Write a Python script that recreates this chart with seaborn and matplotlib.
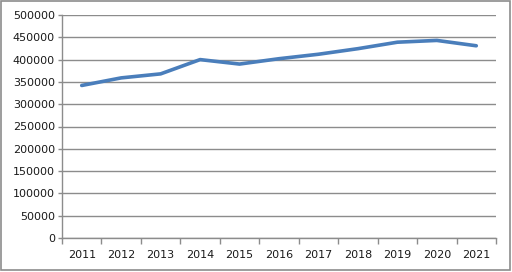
import matplotlib
matplotlib.use("Agg")
import matplotlib.pyplot as plt
from matplotlib.patches import Rectangle
from matplotlib.ticker import FixedLocator, NullFormatter, FixedFormatter
import seaborn as sns
import pandas as pd

years = [2011, 2012, 2013, 2014, 2015, 2016, 2017, 2018, 2019, 2020, 2021]
values = [342000, 359000, 368000, 400000, 390000, 402000, 412000, 424500, 439000, 443000, 431000]
y_ticks = [0, 50000, 100000, 150000, 200000, 250000, 300000, 350000, 400000, 450000, 500000]

df = pd.DataFrame({"year": years, "value": values})

sns.set_theme(style="white")
plt.rcParams["font.family"] = ["DejaVu Sans"]

fig = plt.figure(figsize=(5.12, 2.72), dpi=100)
ax = fig.add_axes([62/512, 34/272, 434/512, 223/272])

sns.lineplot(data=df, x="year", y="value", ax=ax, color="#4A7EBB", linewidth=2.6)

ax.set_xlim(years[0] - 0.5, years[-1] + 0.5)
ax.set_ylim(0, 500000)
ax.set_yticks(y_ticks)
ax.set_yticklabels([str(v) for v in y_ticks])
ax.yaxis.grid(True, color="#8C8C8C", linewidth=1.0)
ax.set_axisbelow(True)

bounds = [y - 0.5 for y in years] + [years[-1] + 0.5]
ax.xaxis.set_major_locator(FixedLocator(bounds))
ax.xaxis.set_major_formatter(NullFormatter())
ax.xaxis.set_minor_locator(FixedLocator(years))
ax.xaxis.set_minor_formatter(FixedFormatter([str(y) for y in years]))
ax.tick_params(axis="x", which="major", length=4, width=1, color="#8C8C8C", direction="out", bottom=True)
ax.tick_params(axis="x", which="minor", length=0, pad=9, labelsize=8, labelcolor="#1a1a1a")
ax.tick_params(axis="y", which="major", length=3, width=1, color="#8C8C8C", direction="out", left=True, labelsize=8, labelcolor="#1a1a1a", pad=2)

ax.set_xlabel("")
ax.set_ylabel("")
for s in ["top", "right"]:
    ax.spines[s].set_visible(False)
for s in ["left", "bottom"]:
    ax.spines[s].set_color("#8C8C8C")
    ax.spines[s].set_linewidth(1.0)

fig.patches.append(Rectangle((1/512, 2/272), 509/512, 269/272, transform=fig.transFigure,
                             fill=False, edgecolor="#8C8C8C", linewidth=1.2))

fig.savefig("out.png", dpi=100)
